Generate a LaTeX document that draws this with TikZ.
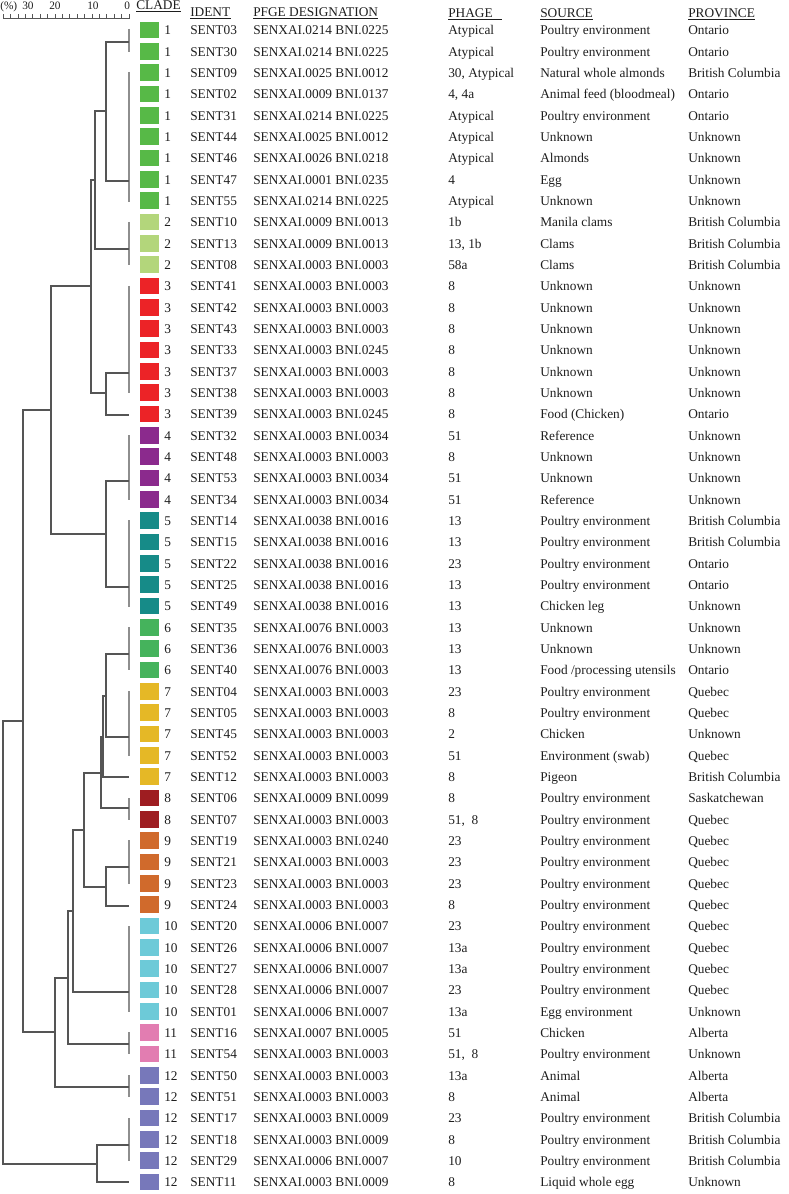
\documentclass[tikz,border=0pt]{standalone}
\usepackage{fontspec}
\setmainfont{Liberation Serif}
\definecolor{c1}{HTML}{57B947}
\definecolor{c2}{HTML}{B3D67B}
\definecolor{c3}{HTML}{EC2327}
\definecolor{c4}{HTML}{8B2A8D}
\definecolor{c5}{HTML}{168B88}
\definecolor{c6}{HTML}{45B35C}
\definecolor{c7}{HTML}{E5B826}
\definecolor{c8}{HTML}{9E1D21}
\definecolor{c9}{HTML}{D06A2C}
\definecolor{c10}{HTML}{6DCAD8}
\definecolor{c11}{HTML}{E27DB1}
\definecolor{c12}{HTML}{7778BA}
\definecolor{txt}{HTML}{1E1E1E}
\definecolor{leafline}{HTML}{8E8E8E}
\definecolor{branchline}{HTML}{555555}
\newcommand\datarow[8]{%
  \pgfmathsetmacro\rowy{30+(#1-1)*21.333}%
  \pgfmathsetmacro\rowb{\rowy+4.7}%
  \node[clsq, fill=#2] (sq#1) at (149.5,\rowy) {};
  \node[cell] (cl#1) at (164,\rowb) {#3};
  \node[cell] (id#1) at (190,\rowb) {#4};
  \node[cell] (pf#1) at (253,\rowb) {#5};
  \node[cell] (ph#1) at (448,\rowb) {#6};
  \node[cell] (so#1) at (540,\rowb) {#7};
  \node[cell] (pr#1) at (688,\rowb) {#8};
}
\begin{document}
\begin{tikzpicture}[x=0.75pt,y=-0.75pt,
  cell/.style={anchor=base west, inner sep=0pt, font=\fontsize{10}{12}\selectfont, text=txt},
  rul/.style={anchor=base west, inner sep=0pt, font=\fontsize{8.5}{10}\selectfont, text=txt},
  clsq/.style={rectangle, draw=none, inner sep=0pt, minimum width=14.25pt, minimum height=12.6pt},
  uline/.style={draw=txt, line width=0.5pt},
  leafv/.style={draw=leafline, line width=0.85pt},
  branch/.style={draw=branchline, line width=0.8pt},
  rulerline/.style={draw=branchline, line width=0.6pt}]
\useasboundingbox (0,0) rectangle (788,1194);

% scale ruler
\node[rul] (pct) at (0,9.5) {(\%)};
\node[rul] (r30) at (22,9.5) {30};
\node[rul] (r20) at (49,9.5) {20};
\node[rul] (r10) at (87,9.5) {10};
\node[rul] (r0) at (124,9.5) {0};
\draw[rulerline] (3,18.5) -- (130,18.5);
\foreach \k in {0,...,17} \draw[rulerline] ({129-\k*7.4},14.5) -- ({129-\k*7.4},18.5);

% headers
\node[cell] (hclade) at (136,10) {CLADE};
\node[cell] (hident) at (190,16.5) {IDENT};
\node[cell] (hpfge) at (253,16.5) {PFGE DESIGNATION};
\node[cell] (hphage) at (448,17.5) {PHAGE};
\node[cell] (hsource) at (540,17.5) {SOURCE};
\node[cell] (hprov) at (688,17.5) {PROVINCE};
\foreach \h in {hclade,hident,hpfge,hsource,hprov}
  \draw[uline] ([yshift=-1.3pt]\h.base west) -- ([yshift=-1.3pt]\h.base east);
\draw[uline] ([yshift=-1.3pt]hphage.base west) -- ([xshift=7pt,yshift=-1.3pt]hphage.base east);

% rows
\datarow{1}{c1}{1}{SENT03}{SENXAI.0214 BNI.0225}{Atypical}{Poultry environment}{Ontario}
\datarow{2}{c1}{1}{SENT30}{SENXAI.0214 BNI.0225}{Atypical}{Poultry environment}{Ontario}
\datarow{3}{c1}{1}{SENT09}{SENXAI.0025 BNI.0012}{30, Atypical}{Natural whole almonds}{British Columbia}
\datarow{4}{c1}{1}{SENT02}{SENXAI.0009 BNI.0137}{4, 4a}{Animal feed (bloodmeal)}{Ontario}
\datarow{5}{c1}{1}{SENT31}{SENXAI.0214 BNI.0225}{Atypical}{Poultry environment}{Ontario}
\datarow{6}{c1}{1}{SENT44}{SENXAI.0025 BNI.0012}{Atypical}{Unknown}{Unknown}
\datarow{7}{c1}{1}{SENT46}{SENXAI.0026 BNI.0218}{Atypical}{Almonds}{Unknown}
\datarow{8}{c1}{1}{SENT47}{SENXAI.0001 BNI.0235}{4}{Egg}{Unknown}
\datarow{9}{c1}{1}{SENT55}{SENXAI.0214 BNI.0225}{Atypical}{Unknown}{Unknown}
\datarow{10}{c2}{2}{SENT10}{SENXAI.0009 BNI.0013}{1b}{Manila clams}{British Columbia}
\datarow{11}{c2}{2}{SENT13}{SENXAI.0009 BNI.0013}{13, 1b}{Clams}{British Columbia}
\datarow{12}{c2}{2}{SENT08}{SENXAI.0003 BNI.0003}{58a}{Clams}{British Columbia}
\datarow{13}{c3}{3}{SENT41}{SENXAI.0003 BNI.0003}{8}{Unknown}{Unknown}
\datarow{14}{c3}{3}{SENT42}{SENXAI.0003 BNI.0003}{8}{Unknown}{Unknown}
\datarow{15}{c3}{3}{SENT43}{SENXAI.0003 BNI.0003}{8}{Unknown}{Unknown}
\datarow{16}{c3}{3}{SENT33}{SENXAI.0003 BNI.0245}{8}{Unknown}{Unknown}
\datarow{17}{c3}{3}{SENT37}{SENXAI.0003 BNI.0003}{8}{Unknown}{Unknown}
\datarow{18}{c3}{3}{SENT38}{SENXAI.0003 BNI.0003}{8}{Unknown}{Unknown}
\datarow{19}{c3}{3}{SENT39}{SENXAI.0003 BNI.0245}{8}{Food (Chicken)}{Ontario}
\datarow{20}{c4}{4}{SENT32}{SENXAI.0003 BNI.0034}{51}{Reference}{Unknown}
\datarow{21}{c4}{4}{SENT48}{SENXAI.0003 BNI.0003}{8}{Unknown}{Unknown}
\datarow{22}{c4}{4}{SENT53}{SENXAI.0003 BNI.0034}{51}{Unknown}{Unknown}
\datarow{23}{c4}{4}{SENT34}{SENXAI.0003 BNI.0034}{51}{Reference}{Unknown}
\datarow{24}{c5}{5}{SENT14}{SENXAI.0038 BNI.0016}{13}{Poultry environment}{British Columbia}
\datarow{25}{c5}{5}{SENT15}{SENXAI.0038 BNI.0016}{13}{Poultry environment}{British Columbia}
\datarow{26}{c5}{5}{SENT22}{SENXAI.0038 BNI.0016}{23}{Poultry environment}{Ontario}
\datarow{27}{c5}{5}{SENT25}{SENXAI.0038 BNI.0016}{13}{Poultry environment}{Ontario}
\datarow{28}{c5}{5}{SENT49}{SENXAI.0038 BNI.0016}{13}{Chicken leg}{Unknown}
\datarow{29}{c6}{6}{SENT35}{SENXAI.0076 BNI.0003}{13}{Unknown}{Unknown}
\datarow{30}{c6}{6}{SENT36}{SENXAI.0076 BNI.0003}{13}{Unknown}{Unknown}
\datarow{31}{c6}{6}{SENT40}{SENXAI.0076 BNI.0003}{13}{Food /processing utensils}{Ontario}
\datarow{32}{c7}{7}{SENT04}{SENXAI.0003 BNI.0003}{23}{Poultry environment}{Quebec}
\datarow{33}{c7}{7}{SENT05}{SENXAI.0003 BNI.0003}{8}{Poultry environment}{Quebec}
\datarow{34}{c7}{7}{SENT45}{SENXAI.0003 BNI.0003}{2}{Chicken}{Unknown}
\datarow{35}{c7}{7}{SENT52}{SENXAI.0003 BNI.0003}{51}{Environment (swab)}{Quebec}
\datarow{36}{c7}{7}{SENT12}{SENXAI.0003 BNI.0003}{8}{Pigeon}{British Columbia}
\datarow{37}{c8}{8}{SENT06}{SENXAI.0009 BNI.0099}{8}{Poultry environment}{Saskatchewan}
\datarow{38}{c8}{8}{SENT07}{SENXAI.0003 BNI.0003}{51,\ \ 8}{Poultry environment}{Quebec}
\datarow{39}{c9}{9}{SENT19}{SENXAI.0003 BNI.0240}{23}{Poultry environment}{Quebec}
\datarow{40}{c9}{9}{SENT21}{SENXAI.0003 BNI.0003}{23}{Poultry environment}{Quebec}
\datarow{41}{c9}{9}{SENT23}{SENXAI.0003 BNI.0003}{23}{Poultry environment}{Quebec}
\datarow{42}{c9}{9}{SENT24}{SENXAI.0003 BNI.0003}{8}{Poultry environment}{Quebec}
\datarow{43}{c10}{10}{SENT20}{SENXAI.0006 BNI.0007}{23}{Poultry environment}{Quebec}
\datarow{44}{c10}{10}{SENT26}{SENXAI.0006 BNI.0007}{13a}{Poultry environment}{Quebec}
\datarow{45}{c10}{10}{SENT27}{SENXAI.0006 BNI.0007}{13a}{Poultry environment}{Quebec}
\datarow{46}{c10}{10}{SENT28}{SENXAI.0006 BNI.0007}{23}{Poultry environment}{Quebec}
\datarow{47}{c10}{10}{SENT01}{SENXAI.0006 BNI.0007}{13a}{Egg environment}{Unknown}
\datarow{48}{c11}{11}{SENT16}{SENXAI.0007 BNI.0005}{51}{Chicken}{Alberta}
\datarow{49}{c11}{11}{SENT54}{SENXAI.0003 BNI.0003}{51,\ \ 8}{Poultry environment}{Unknown}
\datarow{50}{c12}{12}{SENT50}{SENXAI.0003 BNI.0003}{13a}{Animal}{Alberta}
\datarow{51}{c12}{12}{SENT51}{SENXAI.0003 BNI.0003}{8}{Animal}{Alberta}
\datarow{52}{c12}{12}{SENT17}{SENXAI.0003 BNI.0009}{23}{Poultry environment}{British Columbia}
\datarow{53}{c12}{12}{SENT18}{SENXAI.0003 BNI.0009}{8}{Poultry environment}{British Columbia}
\datarow{54}{c12}{12}{SENT29}{SENXAI.0006 BNI.0007}{10}{Poultry environment}{British Columbia}
\datarow{55}{c12}{12}{SENT11}{SENXAI.0003 BNI.0009}{8}{Liquid whole egg}{Unknown}

% dendrogram: leaf-level verticals
\draw[leafv] (129,29) -- (129,52);
\draw[leafv] (129,72) -- (129,202);
\draw[leafv] (129,222) -- (129,265);
\draw[leafv] (129,286) -- (129,393);
\draw[leafv] (129,435) -- (129,500);
\draw[leafv] (129,520) -- (129,607);
\draw[leafv] (129,627) -- (129,670);
\draw[leafv] (129,691) -- (129,756);
\draw[leafv] (129,798) -- (129,820);
\draw[leafv] (129,840) -- (129,884);
\draw[leafv] (129,926) -- (129,1012);
\draw[leafv] (129,1032) -- (129,1054);
\draw[leafv] (129,1075) -- (129,1097);
\draw[leafv] (129,1118) -- (129,1161);

% dendrogram: branches
\begin{scope}[every path/.style={branch}]
\draw (129,42) -| (106,181) -- (129,181);
\draw (106,111) -| (95,249) -- (129,249);
\draw (129,373) -| (106,415) -- (129,415);
\draw (95,180) -| (91,393) -- (106,393);
\draw (129,481) -| (106,587) -- (129,587);
\draw (91,286) -| (51,534) -- (106,534);
\draw (129,654) -| (106,737) -- (129,737);
\draw (106,696) -| (103,777) -- (129,777);
\draw (103,737) -| (101,808) -- (129,808);
\draw (129,867) -| (106,906) -- (129,906);
\draw (101,773) -| (84,887) -- (106,887);
\draw (84,830) -| (73,992) -- (129,992);
\draw (73,911) -| (68,1044) -- (129,1044);
\draw (68,978) -| (55,1087) -- (129,1087);
\draw (51,410) -| (23,1032) -- (55,1032);
\draw (129,1145) -| (97,1182) -- (129,1182);
\draw (23,721) -| (3,1164) -- (97,1164);
\end{scope}
\end{tikzpicture}
\end{document}
